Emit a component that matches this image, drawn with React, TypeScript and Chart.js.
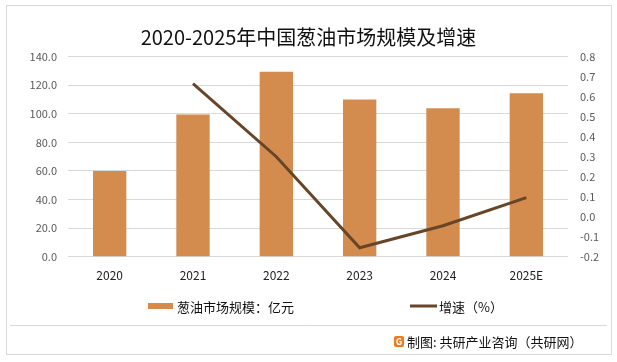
import React, { useEffect, useRef } from "react";
import { Chart, registerables } from "chart.js";

Chart.register(...registerables);

const categories = ["2020", "2021", "2022", "2023", "2024", "2025E"];
const marketSize = [60, 99.5, 129.5, 110, 104, 114.5];
const growthRate = [null, 0.665, 0.3, -0.155, -0.045, 0.095];
const leftTicks = { min: 0, max: 140, step: 20 };
const rightTicks = { min: -0.2, max: 0.8, step: 0.1 };
const titleText = "2020-2025年中国葱油市场规模及增速";
const seriesNames = ["葱油市场规模：亿元", "增速（%）"];
const sourceText = "制图: 共研产业咨询（共研网）";

const BAR_COLOR = "#D38C4E";
const LINE_COLOR = "#664529";
const GRID = "#D9D9D9";
const FONT = "'Noto Sans CJK SC', 'Noto Sans', sans-serif";

const fmt = (v: number) => (Math.abs(v) < 1e-9 ? "0.0" : Number(v).toFixed(1));

const decorPlugin = {
  id: "decor",
  afterDraw(chart: any) {
    const ctx = chart.ctx as CanvasRenderingContext2D;
    ctx.save();
    // outer frame
    ctx.strokeStyle = GRID;
    ctx.lineWidth = 1;
    ctx.strokeRect(6.5, 5.5, 605, 349);
    // footer separator
    ctx.beginPath();
    ctx.moveTo(10, 325.5);
    ctx.lineTo(607, 325.5);
    ctx.stroke();

    // legend
    const ds = chart.data.datasets;
    ctx.font = `13px ${FONT}`;
    ctx.textBaseline = "middle";
    ctx.textAlign = "left";
    ctx.fillStyle = ds[0].backgroundColor;
    ctx.fillRect(148, 303, 25, 6);
    ctx.fillStyle = "#111";
    ctx.fillText(ds[0].label, 177, 307);

    ctx.strokeStyle = ds[1].borderColor;
    ctx.lineWidth = 3;
    ctx.beginPath();
    ctx.moveTo(410, 306);
    ctx.lineTo(437, 306);
    ctx.stroke();
    ctx.fillStyle = "#111";
    ctx.fillText(ds[1].label, 439, 307);

    // footer logo + source
    ctx.fillStyle = "#F07A1E";
    ctx.beginPath();
    ctx.roundRect(394, 336, 10, 11, 2);
    ctx.fill();
    ctx.fillStyle = "#fff";
    ctx.font = `bold 9px ${FONT}`;
    ctx.textAlign = "center";
    ctx.fillText("G", 399, 342);
    ctx.fillStyle = "#111";
    ctx.textAlign = "left";
    ctx.font = `13px ${FONT}`;
    ctx.fillText(sourceText, 407, 342);
    ctx.restore();
  },
};

export default function App() {
  const ref = useRef<HTMLCanvasElement>(null);
  useEffect(() => {
    document.body.style.margin = "0";
    Chart.defaults.font.family = FONT;
    const chart = new Chart(ref.current!, {
      type: "bar",
      data: {
        labels: categories,
        datasets: [
          {
            type: "bar",
            label: seriesNames[0],
            data: marketSize,
            backgroundColor: BAR_COLOR,
            yAxisID: "y",
            order: 2,
            barPercentage: 0.5,
            categoryPercentage: 0.8,
          },
          {
            type: "line",
            label: seriesNames[1],
            data: growthRate as any,
            borderColor: LINE_COLOR,
            backgroundColor: LINE_COLOR,
            borderWidth: 3,
            pointRadius: 0,
            tension: 0,
            yAxisID: "y1",
            order: 1,
          } as any,
        ],
      },
      options: {
        responsive: false,
        animation: false,
        devicePixelRatio: 1,
        layout: { padding: { left: 0, right: 0, top: 0, bottom: 75.3 } },
        plugins: {
          legend: { display: false },
          tooltip: { enabled: false },
          title: {
            display: true,
            text: titleText,
            color: "#111",
            font: { size: 20, weight: "normal" as any, family: FONT },
            padding: { top: 25, bottom: 7.7 },
          },
        },
        scales: {
          x: {
            grid: { display: false },
            border: { display: false },
            ticks: { color: "#222", font: { size: 12 }, padding: 4 },
            afterFit: (s: any) => {
              s.height = 30;
            },
          },
          y: {
            position: "left",
            min: leftTicks.min,
            max: leftTicks.max,
            grid: { color: GRID, drawTicks: false },
            border: { display: false },
            ticks: {
              stepSize: leftTicks.step,
              color: "#595959",
              font: { size: 11 },
              padding: 11,
              callback: (v: any) => fmt(v),
            },
            afterFit: (s: any) => {
              s.width = 68;
            },
          },
          y1: {
            position: "right",
            min: rightTicks.min,
            max: rightTicks.max,
            grid: { display: false, drawTicks: false },
            border: { display: false },
            ticks: {
              stepSize: rightTicks.step,
              color: "#595959",
              font: { size: 11 },
              padding: 12,
              callback: (v: any) => fmt(v),
            },
            afterFit: (s: any) => {
              s.width = 49;
            },
          },
        },
      },
      plugins: [decorPlugin],
    });
    return () => chart.destroy();
  }, []);
  return <canvas ref={ref} width={617} height={362} style={{ display: "block" }} />;
}
